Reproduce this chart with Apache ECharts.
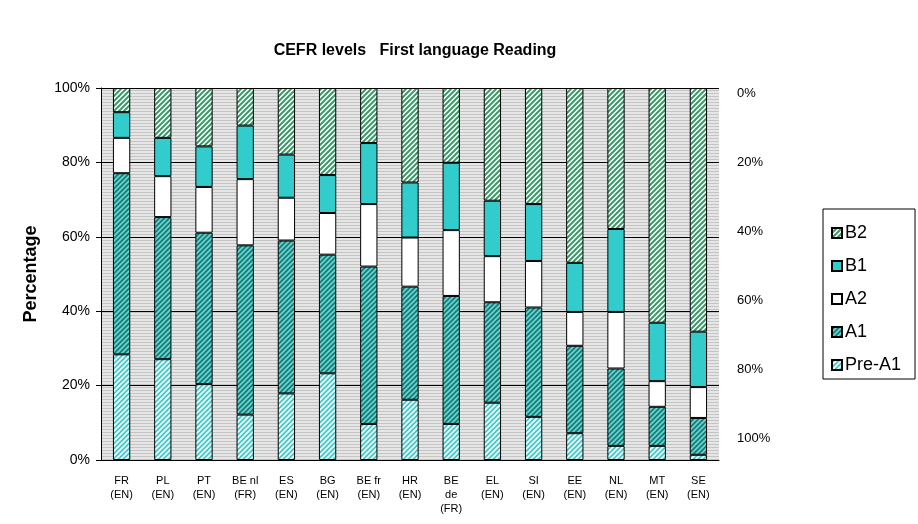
<!DOCTYPE html>
<html>
<head>
<meta charset="utf-8">
<script src="https://cdn.jsdelivr.net/npm/echarts@6/dist/echarts.min.js"></script>
<style>
  html, body { margin: 0; padding: 0; background: #fff; }
  #chart { width: 918px; height: 524px; }
</style>
</head>
<body>
<div id="chart"></div>
<script>
// Datos
var paises = ['FR\n(EN)', 'PL\n(EN)', 'PT\n(EN)', 'BE nl\n(FR)', 'ES\n(EN)', 'BG\n(EN)', 'BE fr\n(EN)', 'HR\n(EN)',
  'BE\nde\n(FR)', 'EL\n(EN)', 'SI\n(EN)', 'EE\n(EN)', 'NL\n(EN)', 'MT\n(EN)', 'SE\n(EN)'];
var preA1 = [28.4, 27.1, 20.4, 12.2, 17.9, 23.3, 9.7, 16.2, 9.7, 15.4, 11.6, 7.2, 3.8, 3.8, 1.4];
var a1 = [48.7, 38.2, 40.7, 45.5, 41.1, 31.9, 42.3, 30.4, 34.4, 27.0, 29.4, 23.5, 20.8, 10.5, 9.9];
var a2 = [9.5, 11.0, 12.3, 17.8, 11.5, 11.2, 16.8, 13.2, 17.7, 12.4, 12.5, 9.1, 15.2, 6.9, 8.3];
var b1 = [6.9, 10.3, 10.9, 14.4, 11.6, 10.2, 16.4, 14.8, 18.1, 14.9, 15.3, 13.2, 22.3, 15.7, 14.9];
var b2 = [6.5, 13.4, 15.7, 10.1, 17.9, 23.4, 14.8, 25.4, 20.1, 30.3, 31.2, 47.0, 37.9, 63.1, 65.5];
var ticksDerecha = [0, 20, 40, 60, 80, 100];

// Patron de rayas diagonales
function rayado(fondo, linea, tam, grosor) {
  var c = document.createElement('canvas');
  c.width = tam; c.height = tam;
  var ctx = c.getContext('2d');
  ctx.fillStyle = fondo;
  ctx.fillRect(0, 0, tam, tam);
  ctx.strokeStyle = linea;
  ctx.lineWidth = grosor;
  ctx.beginPath();
  ctx.moveTo(-1, tam + 1); ctx.lineTo(tam + 1, -1);
  ctx.moveTo(-tam - 1, tam + 1); ctx.lineTo(1, -1);
  ctx.moveTo(tam - 1, tam + 1); ctx.lineTo(2 * tam + 1, -1);
  ctx.stroke();
  return { image: c, repeat: 'repeat' };
}

// Fondo gris con lineas horizontales
function fondoGris() {
  var c = document.createElement('canvas');
  c.width = 4; c.height = 3;
  var ctx = c.getContext('2d');
  ctx.fillStyle = '#e6e6e6';
  ctx.fillRect(0, 0, 4, 3);
  ctx.fillStyle = '#c4c4c4';
  ctx.fillRect(0, 0, 4, 1);
  return { image: c, repeat: 'repeat' };
}

var colPreA1 = rayado('#3ccccc', '#ffffff', 5, 1.6);
var colA1 = rayado('#137f7c', '#6fd2cd', 5, 1.6);
var colB2 = rayado('#ffffff', '#3c9a6a', 5, 2);

function serie(nombre, datos, color) {
  return {
    name: nombre,
    type: 'bar',
    stack: 'total',
    barWidth: '42%',
    data: datos,
    itemStyle: { color: color, borderColor: '#000', borderWidth: 1 },
    emphasis: { disabled: true }
  };
}

var fuente = 'Liberation Sans, Arial, sans-serif';
var chart = echarts.init(document.getElementById('chart'));
chart.setOption({
  animation: false,
  textStyle: { fontFamily: fuente, color: '#000' },
  title: {
    text: 'CEFR levels   First language Reading',
    left: 410,
    textAlign: 'center',
    top: 38,
    textStyle: { fontSize: 16, fontWeight: 'bold', color: '#000', fontFamily: fuente }
  },
  legend: {
    orient: 'vertical',
    left: 823,
    top: 209,
    data: ['B2', 'B1', 'A2', 'A1', 'Pre-A1'],
    icon: 'rect',
    itemWidth: 10,
    itemHeight: 10,
    itemGap: 13,
    padding: [14, 14, 4, 8],
    borderColor: '#000',
    borderWidth: 1,
    textStyle: { fontSize: 18, lineHeight: 20, color: '#000', padding: [0, 0, 0, -2] }
  },
  grid: [
    { left: 101, right: 199, top: 88, bottom: 64, show: true, backgroundColor: fondoGris(), borderWidth: 0 },
    { left: 101, right: 199, top: 93, bottom: 86 }
  ],
  xAxis: [
    {
      type: 'category',
      data: paises,
      gridIndex: 0,
      axisLine: { lineStyle: { color: '#000' } },
      axisTick: { length: 5, lineStyle: { color: '#000' } },
      axisLabel: { fontSize: 11, color: '#000', lineHeight: 14, margin: 14, interval: 0 }
    },
    { type: 'category', gridIndex: 1, show: false, data: paises }
  ],
  yAxis: [
    {
      type: 'value',
      gridIndex: 0,
      min: 0,
      max: 100,
      interval: 20,
      name: 'Percentage',
      nameLocation: 'middle',
      nameRotate: 90,
      nameGap: 61,
      nameTextStyle: { fontSize: 18, fontWeight: 'bold', color: '#000' },
      axisLine: { show: true, lineStyle: { color: '#000' } },
      axisTick: { show: true, length: 5, lineStyle: { color: '#000' } },
      axisLabel: { fontSize: 14, color: '#000', formatter: '{value}%', margin: 11 },
      splitLine: { lineStyle: { color: '#000', width: 1 } }
    },
    {
      type: 'value',
      gridIndex: 1,
      position: 'right',
      inverse: true,
      min: 0,
      max: 100,
      interval: 20,
      axisLine: { show: false },
      axisTick: { show: false },
      splitLine: { show: false },
      axisLabel: {
        fontSize: 13,
        color: '#000',
        margin: 18,
        formatter: function (v) { return ticksDerecha.indexOf(v) >= 0 ? v + '%' : ''; }
      }
    }
  ],
  series: [
    serie('Pre-A1', preA1, colPreA1),
    serie('A1', a1, colA1),
    serie('A2', a2, '#ffffff'),
    serie('B1', b1, '#33cccc'),
    serie('B2', b2, colB2)
  ]
});
</script>
</body>
</html>
